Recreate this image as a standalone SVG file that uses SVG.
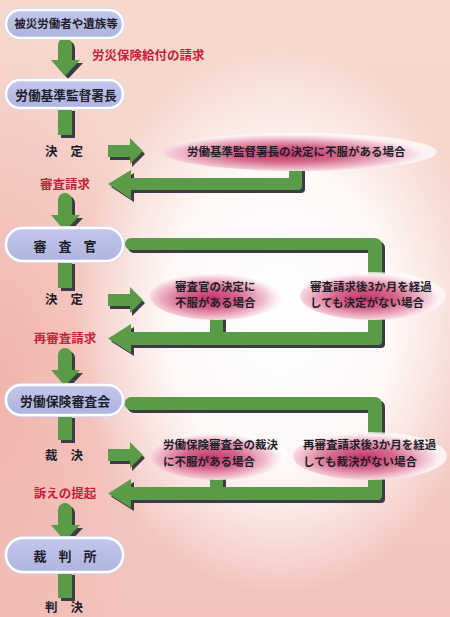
<svg xmlns="http://www.w3.org/2000/svg" width="450" height="617" viewBox="0 0 450 617">
<defs>
<linearGradient id="bgv" x1="0" y1="0" x2="0" y2="1">
<stop offset="0" stop-color="#f7d8cd"/>
<stop offset="0.5" stop-color="#f6d3cc"/>
<stop offset="1" stop-color="#f3c2bc"/>
</linearGradient>
<radialGradient id="glow" cx="280" cy="320" r="240" gradientUnits="userSpaceOnUse" gradientTransform="translate(280 320) scale(0.85 1.15) translate(-280 -320)">
<stop offset="0" stop-color="#ffffff" stop-opacity="1"/>
<stop offset="0.55" stop-color="#ffffff" stop-opacity="0.85"/>
<stop offset="1" stop-color="#ffffff" stop-opacity="0"/>
</radialGradient>
<radialGradient id="leftpink" cx="0" cy="380" r="160" gradientUnits="userSpaceOnUse" gradientTransform="translate(0 380) scale(1 2.2) translate(0 -380)">
<stop offset="0" stop-color="#efaea6" stop-opacity="0.8"/>
<stop offset="1" stop-color="#efaea6" stop-opacity="0"/>
</radialGradient>
<radialGradient id="pinkEl" cx="0.45" cy="0.55" r="0.55">
<stop offset="0" stop-color="#c2336a"/>
<stop offset="0.4" stop-color="#d66a8d"/>
<stop offset="0.72" stop-color="#f0bccb"/>
<stop offset="0.9" stop-color="#fcf0f3"/>
<stop offset="1" stop-color="#ffffff" stop-opacity="0.7"/>
</radialGradient>
<linearGradient id="nodeFill" x1="0" y1="0" x2="0" y2="1">
<stop offset="0" stop-color="#c3c7ec"/>
<stop offset="1" stop-color="#aeb3e0"/>
</linearGradient>
<g id="downArrow">
<path d="M58,0 A7,7 0 0 1 72,0 V15 H80 L65,31 L51,15 H58 Z"/>
</g>
<g id="rightArrow">
<path d="M108,-6 H130 V-13 L143,0 L130,13 V6 H108 Z"/>
</g>
</defs>
<style>
.node-out{fill:#cfd4f2;}
.node-in{fill:url(#nodeFill);stroke:#ffffff;stroke-width:2.5;}
.ntext{font-family:"Noto Sans CJK JP","Noto Sans",sans-serif;font-weight:bold;fill:#1e1e2a;text-anchor:middle;}
.red{font-family:"Noto Sans CJK JP","Noto Sans",sans-serif;font-weight:bold;fill:#c8203a;font-size:12.5px;}
.blk{font-family:"Noto Sans CJK JP","Noto Sans",sans-serif;font-weight:bold;fill:#1e1e2a;font-size:12.5px;text-anchor:middle;word-spacing:10px;}
.etext{font-family:"Noto Sans CJK JP","Noto Sans",sans-serif;font-weight:bold;fill:#1e1e2a;font-size:11.5px;}
.green{fill:#5a9b48;}
.shadow{fill:#3d3b45;}
.ell{fill:url(#pinkEl);}
</style>
<!-- background -->
<rect x="0" y="0" width="450" height="617" fill="url(#bgv)"/>
<rect x="0" y="0" width="450" height="617" fill="url(#leftpink)"/>
<rect x="0" y="0" width="450" height="617" fill="url(#glow)"/>

<!-- connectors -->
<g id="connectors">
<!-- down arrows between nodes -->
<g transform="translate(3,3)" class="shadow"><use href="#downArrow" y="45"/></g>
<g class="green"><use href="#downArrow" y="45"/></g>
<g transform="translate(3,3)" class="shadow"><use href="#downArrow" y="200"/></g>
<g class="green"><use href="#downArrow" y="200"/></g>
<g transform="translate(3,3)" class="shadow"><use href="#downArrow" y="355"/></g>
<g class="green"><use href="#downArrow" y="355"/></g>
<g transform="translate(3,3)" class="shadow"><use href="#downArrow" y="510"/></g>
<g class="green"><use href="#downArrow" y="510"/></g>

<!-- stubs below nodes -->
<rect class="shadow" x="61" y="111" width="14" height="27"/>
<rect class="green" x="58" y="108" width="14" height="27"/>
<rect class="shadow" x="61" y="264" width="14" height="27"/>
<rect class="green" x="58" y="261" width="14" height="27"/>
<rect class="shadow" x="61" y="418" width="14" height="25"/>
<rect class="green" x="58" y="415" width="14" height="25"/>
<rect class="shadow" x="61" y="575" width="14" height="26"/>
<rect class="green" x="58" y="572" width="14" height="26"/>

<!-- right arrows -->
<g transform="translate(2,3)" class="shadow"><use href="#rightArrow" y="151"/></g>
<g class="green"><use href="#rightArrow" y="151"/></g>
<g transform="translate(2,3)" class="shadow"><use href="#rightArrow" y="300"/></g>
<g class="green"><use href="#rightArrow" y="300"/></g>
<g transform="translate(2,3)" class="shadow"><use href="#rightArrow" y="455"/></g>
<g class="green"><use href="#rightArrow" y="455"/></g>

<!-- return arrow 1 -->
<path class="shadow" transform="translate(3,3)" d="M108,184 L131,170 V178 H289 V166 H302 V186 Q302,190 298,190 H131 V199 Z"/>
<path class="green" d="M108,184 L131,170 V178 H289 V166 H302 V186 Q302,190 298,190 H131 V199 Z"/>

<!-- row 2 top connector -->
<path class="shadow" transform="translate(3,3)" d="M131,238 H374 Q382,238 382,246 V278 H368 V250 H131 A6,6 0 0 1 131,238 Z"/>
<path class="green" d="M131,238 H374 Q382,238 382,246 V278 H368 V250 H131 A6,6 0 0 1 131,238 Z"/>
<!-- row 2 return -->
<path class="shadow" transform="translate(3,3)" d="M108,338.5 L131,324 V332 H210 V316 H223 V332 H368 V314 H382 V341 Q382,345 378,345 H131 V353 Z"/>
<path class="green" d="M108,338.5 L131,324 V332 H210 V316 H223 V332 H368 V314 H382 V341 Q382,345 378,345 H131 V353 Z"/>

<!-- row 3 top connector -->
<path class="shadow" transform="translate(3,3)" d="M131,397 H374 Q382,397 382,405 V436 H368 V410 H131 A6.5,6.5 0 0 1 131,397 Z"/>
<path class="green" d="M131,397 H374 Q382,397 382,405 V436 H368 V410 H131 A6.5,6.5 0 0 1 131,397 Z"/>
<!-- row 3 return -->
<path class="shadow" transform="translate(3,3)" d="M108,493.5 L131,479 V487 H210 V472 H223 V487 H368 V472 H382 V496 Q382,500 378,500 H131 V508 Z"/>
<path class="green" d="M108,493.5 L131,479 V487 H210 V472 H223 V487 H368 V472 H382 V496 Q382,500 378,500 H131 V508 Z"/>
</g>

<!-- condition ellipses -->
<g id="cond1">
<ellipse class="ell" cx="300" cy="152" rx="137" ry="19"/>
<text class="etext" x="187" y="156.4">労働基準監督署長の決定に不服がある場合</text>
</g>
<g id="cond2a">
<ellipse class="ell" cx="217" cy="296" rx="67" ry="24"/>
<text class="etext" x="175" y="291.4">審査官の決定に</text>
<text class="etext" x="175" y="307.4">不服がある場合</text>
</g>
<g id="cond2b">
<ellipse class="ell" cx="373" cy="296" rx="73" ry="24"/>
<text class="etext" x="310" y="291.4">審査請求後3か月を経過</text>
<text class="etext" x="310" y="307.4">しても決定がない場合</text>
</g>
<g id="cond3a">
<ellipse class="ell" cx="218" cy="456" rx="68" ry="24"/>
<text class="etext" x="163" y="449.4">労働保険審査会の裁決</text>
<text class="etext" x="163" y="466.4">に不服がある場合</text>
</g>
<g id="cond3b">
<ellipse class="ell" cx="370" cy="456" rx="77" ry="24"/>
<text class="etext" x="303" y="449.4">再審査請求後3か月を経過</text>
<text class="etext" x="303" y="466.4">しても裁決がない場合</text>
</g>

<!-- nodes -->
<g id="node1">
<rect class="node-out" x="4" y="8" width="121" height="32" rx="16"/>
<rect class="node-in" x="6" y="10" width="117" height="28" rx="14"/>
<text class="ntext" x="66" y="27.5" font-size="11.5">被災労働者や遺族等</text>
</g>
<g id="node2">
<rect class="node-out" x="4" y="78" width="121" height="32" rx="16"/>
<rect class="node-in" x="6" y="80" width="117" height="28" rx="14"/>
<text class="ntext" x="66" y="99.8" font-size="12.7">労働基準監督署長</text>
</g>
<g id="node3">
<rect class="node-out" x="4" y="226" width="121" height="37" rx="18.5"/>
<rect class="node-in" x="6" y="228" width="117" height="33" rx="16.5"/>
<text class="ntext" x="65" y="251" font-size="13" word-spacing="9">審 査 官</text>
</g>
<g id="node4">
<rect class="node-out" x="4" y="383" width="121" height="34" rx="17"/>
<rect class="node-in" x="6" y="385" width="117" height="30" rx="15"/>
<text class="ntext" x="65" y="406" font-size="12.9">労働保険審査会</text>
</g>
<g id="node5">
<rect class="node-out" x="4" y="536" width="121" height="38" rx="19"/>
<rect class="node-in" x="6" y="538" width="117" height="34" rx="17"/>
<text class="ntext" x="65" y="561" font-size="13" word-spacing="9">裁 判 所</text>
</g>

<!-- labels -->
<g id="labels">
<text class="red" x="92" y="59.5">労災保険給付の請求</text>
<text class="red" x="65" y="188.5" text-anchor="middle">審査請求</text>
<text class="red" x="65" y="342.5" text-anchor="middle">再審査請求</text>
<text class="red" x="65" y="497.5" text-anchor="middle">訴えの提起</text>
<text class="blk" x="64" y="155.5">決 定</text>
<text class="blk" x="64" y="303.5">決 定</text>
<text class="blk" x="64" y="459.5">裁 決</text>
<text class="blk" x="64" y="612">判 決</text>
</g>
</svg>
